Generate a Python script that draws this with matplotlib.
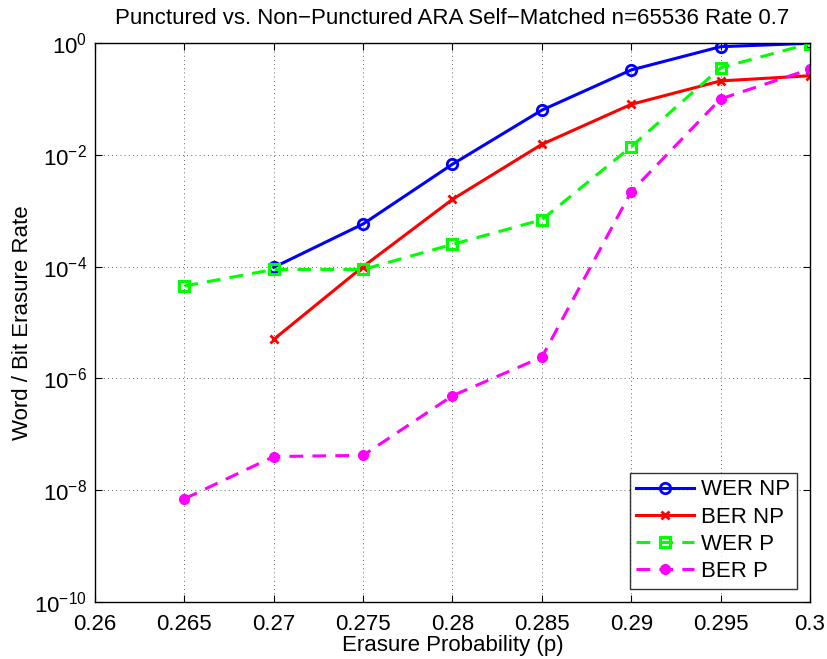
import matplotlib
matplotlib.use("Agg")
import matplotlib.pyplot as plt
from matplotlib.ticker import FixedLocator, LogFormatterSciNotation, NullLocator

plt.rcParams['font.family'] = ['Liberation Sans', 'DejaVu Sans']
plt.rcParams['mathtext.fontset'] = 'custom'
plt.rcParams['mathtext.rm'] = 'Liberation Sans'
plt.rcParams['mathtext.default'] = 'regular'

# Erasure probability
p = [0.265, 0.27, 0.275, 0.28, 0.285, 0.29, 0.295, 0.3]
p_np = [0.27, 0.275, 0.28, 0.285, 0.29, 0.295, 0.3]

# Non-punctured code
wer_np = [9.7e-5, 5.8e-4, 6.8e-3, 0.063, 0.33, 0.86, 0.99]
ber_np = [5.0e-6, 1.0e-4, 1.6e-3, 0.0154, 0.080, 0.21, 0.26]

# Punctured code
wer_p = [4.5e-5, 8.9e-5, 8.9e-5, 2.5e-4, 6.9e-4, 0.014, 0.36, 0.98]
ber_p = [7.0e-9, 4.0e-8, 4.2e-8, 4.9e-7, 2.4e-6, 2.2e-3, 0.10, 0.34]

x_ticks = [0.26, 0.265, 0.27, 0.275, 0.28, 0.285, 0.29, 0.295, 0.3]
x_tick_labels = ['0.26', '0.265', '0.27', '0.275', '0.28', '0.285', '0.29', '0.295', '0.3']
y_ticks = [1e-10, 1e-8, 1e-6, 1e-4, 1e-2, 1e0]

fig = plt.figure(figsize=(8.27, 6.59), dpi=100)
ax = fig.add_axes([0.1149, 0.0865, 0.8645, 0.8482])

ax.semilogy(p_np, wer_np, '-', color=(0, 0, 1), lw=2.2, marker='o', ms=7.5,
            mfc='none', mew=2, label='WER NP')
ax.semilogy(p_np, ber_np, '-', color=(1, 0, 0), lw=2.2, marker='x', ms=5.5,
            mew=2, label='BER NP')
ax.semilogy(p, wer_p, '--', color=(0, 1, 0), lw=2.2, marker='s', ms=6.5,
            mfc='none', mew=2.2, dashes=(4.5, 3), label='WER P')
ax.semilogy(p, ber_p, '--', color=(1, 0, 1), lw=2.2, marker='o', ms=7,
            mfc=(1, 0, 1), mew=1, dashes=(4.5, 3), label='BER P')

ax.set_xlim(0.26, 0.3)
ax.set_ylim(1e-10, 1)
ax.xaxis.set_major_locator(FixedLocator(x_ticks))
ax.set_xticklabels(x_tick_labels)
ax.yaxis.set_major_locator(FixedLocator(y_ticks))
ax.yaxis.set_major_formatter(LogFormatterSciNotation())
ax.yaxis.set_minor_locator(NullLocator())

ax.tick_params(axis='both', which='major', direction='in', length=5, width=0.8,
               top=True, right=True, labelsize=16)
ax.tick_params(axis='x', pad=9)
ax.tick_params(axis='y', pad=6)
ax.grid(True, which='major', color='black', linestyle=(0, (1, 4)), linewidth=0.6, alpha=0.8)
for s in ax.spines.values():
    s.set_linewidth(1.0)

ax.set_title('Punctured vs. Non\u2212Punctured ARA Self\u2212Matched n=65536 Rate 0.7',
             fontsize=16, pad=14)
ax.set_xlabel('Erasure Probability (p)', fontsize=16, labelpad=0)
ax.set_ylabel('Word / Bit Erasure Rate', fontsize=16, labelpad=1)

leg = ax.legend(loc='lower right', fontsize=16, frameon=True, fancybox=False,
                edgecolor='black', handlelength=2.6, handletextpad=0.3,
                labelspacing=0.28, borderpad=0.3, borderaxespad=0.6,
                numpoints=1)
leg.get_frame().set_linewidth(1.0)

fig.savefig('out.png', dpi=100)
